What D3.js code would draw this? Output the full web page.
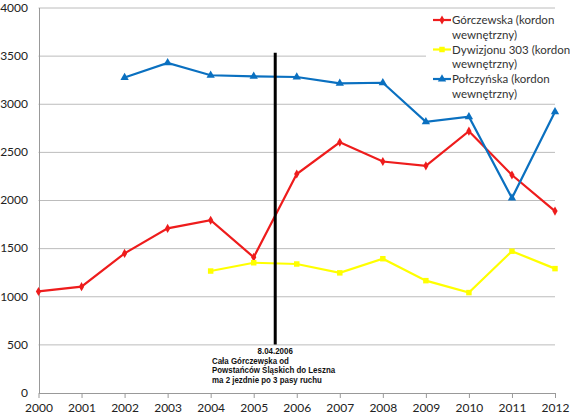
<!DOCTYPE html>
<html>
<head>
<meta charset="utf-8">
<script src="https://cdn.jsdelivr.net/npm/d3@7"></script>
<style>
  body { margin: 0; background: #fff; }
  svg { display: block; }
</style>
</head>
<body>
<svg id="chart" width="570" height="418"></svg>
<script>
// years on the x axis
var years = [2000, 2001, 2002, 2003, 2004, 2005, 2006, 2007, 2008, 2009, 2010, 2011, 2012];
var yTicks = [0, 500, 1000, 1500, 2000, 2500, 3000, 3500, 4000];

// traffic counts per road, null = no measurement
var gorczewska = [1050, 1100, 1445, 1705, 1790, 1405, 2270, 2600, 2400, 2355, 2715, 2260, 1885];
var dywizjonu  = [null, null, null, null, 1262, 1348, 1335, 1243, 1390, 1162, 1038, 1468, 1287];
var polczynska = [null, null, 3272, 3425, 3296, 3285, 3278, 3212, 3218, 2812, 2865, 2020, 2917];

var seriesNames = ["Górczewska (kordon|wewnętrzny)", "Dywizjonu 303 (kordon|wewnętrzny)", "Połczyńska (kordon|wewnętrzny)"];
var seriesColors = ["#ee1c1c", "#ffff00", "#0a70c0"];
var seriesMarkers = [d3.symbolDiamond, d3.symbolSquare, d3.symbolTriangle];

var markerYear = 2005.5;
var markerRange = [500, 3530];
var noteLines = ["8.04.2006", "Cała Górczewska od", "Powstańców Śląskich do Leszna", "ma 2 jezdnie po 3 pasy ruchu"];

var svg = d3.select("#chart");

var x = d3.scaleLinear().domain([2000, 2012]).range([38.5, 555]);
var y = d3.scaleLinear().domain([0, 4000]).range([392.5, 7.5]);

var font = "Lato, 'Open Sans', sans-serif";

/* grid lines */
svg.append("g")
    .selectAll("line")
    .data(yTicks.slice(1))
    .enter().append("line")
    .attr("x1", x(2000)).attr("x2", x(2012))
    .attr("y1", function (d) { return y(d) + 0.5; })
    .attr("y2", function (d) { return y(d) + 0.5; })
    .style("stroke", "#bcbcbc")
    .style("stroke-width", 1);

/* x axis */
var xAxis = svg.append("g")
    .attr("transform", "translate(0," + (y(0) + 0.5) + ")")
    .call(d3.axisBottom(x).tickValues(years).tickFormat(d3.format("d")).tickSize(5).tickSizeOuter(0));
xAxis.select(".domain").style("stroke", "#999");
xAxis.selectAll(".tick line").style("stroke", "#999");
xAxis.selectAll("text")
    .attr("dy", "0")
    .attr("y", 19)
    .style("font-family", font)
    .style("font-size", "12px")
    .style("fill", "#222");

/* y axis */
var yAxis = svg.append("g")
    .attr("transform", "translate(" + (x(2000) + 0.5) + ",0)")
    .call(d3.axisLeft(y).tickValues(yTicks).tickFormat(d3.format("d")).tickSize(0).tickPadding(11));
yAxis.select(".domain").style("stroke", "#999");
yAxis.selectAll("text")
    .style("font-family", font)
    .style("font-size", "12px")
    .style("fill", "#222");

/* series */
var allSeries = [gorczewska, dywizjonu, polczynska];

var line = d3.line()
    .defined(function (d) { return d.v !== null; })
    .x(function (d) { return x(d.year); })
    .y(function (d) { return y(d.v); });

allSeries.forEach(function (values, i) {
    var pts = years.map(function (yr, j) { return { year: yr, v: values[j] }; });
    svg.append("path")
        .datum(pts)
        .attr("d", line)
        .style("fill", "none")
        .style("stroke", seriesColors[i])
        .style("stroke-width", 2.2);
    svg.append("g")
        .selectAll("path")
        .data(pts.filter(function (d) { return d.v !== null; }))
        .enter().append("path")
        .attr("d", d3.symbol().type(seriesMarkers[i]).size(i === 0 ? 24 : 30))
        .attr("transform", function (d) { return "translate(" + x(d.year) + "," + y(d.v) + ")"; })
        .style("fill", seriesColors[i]);
});

/* event marker */
svg.append("line")
    .attr("x1", x(markerYear)).attr("x2", x(markerYear))
    .attr("y1", y(markerRange[1])).attr("y2", y(markerRange[0]))
    .style("stroke", "#000")
    .style("stroke-width", 3);

// narrow bold note, squeezed horizontally to look like a condensed face
var note = svg.append("g")
    .style("font-family", "'Liberation Sans', Arial, sans-serif")
    .style("font-weight", "bold")
    .style("font-size", "9px")
    .style("fill", "#111");
note.append("text")
    .attr("transform", "translate(" + x(markerYear) + ",354) scale(0.88,1)")
    .attr("text-anchor", "middle")
    .text(noteLines[0]);
noteLines.slice(1).forEach(function (t, i) {
    note.append("text")
        .attr("transform", "translate(212," + (363.5 + i * 9.8) + ") scale(0.88,1)")
        .text(t);
});

/* legend */
var legend = svg.append("g");
legend.append("rect")
    .attr("x", 426).attr("y", 11)
    .attr("width", 140).attr("height", 90)
    .style("fill", "#fff");

seriesNames.forEach(function (name, i) {
    var cy = 20 + i * 29.5;
    var g = legend.append("g");
    g.append("line")
        .attr("x1", 433).attr("x2", 451)
        .attr("y1", cy).attr("y2", cy)
        .style("stroke", seriesColors[i])
        .style("stroke-width", 2.2);
    g.append("path")
        .attr("d", d3.symbol().type(seriesMarkers[i]).size(i === 0 ? 24 : 30))
        .attr("transform", "translate(442," + cy + ")")
        .style("fill", seriesColors[i]);
    name.split("|").forEach(function (part, k) {
        g.append("text")
            .attr("x", 452)
            .attr("y", cy + 4 + k * 14.7)
            .style("font-family", font)
            .style("font-size", "11.5px")
            .style("fill", "#333")
            .text(part);
    });
});
</script>
</body>
</html>
